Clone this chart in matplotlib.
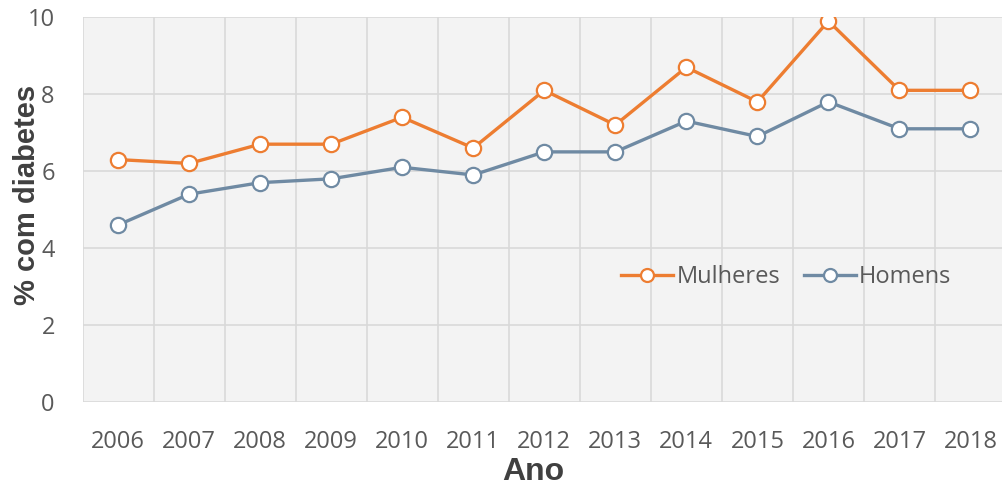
import matplotlib
matplotlib.use("Agg")
import matplotlib.pyplot as plt

anos = ["2006", "2007", "2008", "2009", "2010", "2011", "2012",
        "2013", "2014", "2015", "2016", "2017", "2018"]
mulheres = [6.3, 6.2, 6.7, 6.7, 7.4, 6.6, 8.1, 7.2, 8.7, 7.8, 9.9, 8.1, 8.1]
homens = [4.6, 5.4, 5.7, 5.8, 6.1, 5.9, 6.5, 6.5, 7.3, 6.9, 7.8, 7.1, 7.1]
yticks = [0, 2, 4, 6, 8, 10]

orange = "#ED7D31"
blue = "#6F8AA3"

fig = plt.figure(figsize=(10.03, 4.92), dpi=100)
ax = fig.add_axes([0.0823, 0.183, 0.9207, 0.782])
ax.set_facecolor("#f3f3f3")

x = list(range(len(anos)))
ax.plot(x, mulheres, color=orange, lw=2.4, marker="o", ms=11,
        mfc="white", mec=orange, mew=1.6, label="Mulheres", zorder=3)
ax.plot(x, homens, color=blue, lw=2.4, marker="o", ms=11,
        mfc="white", mec=blue, mew=1.6, label="Homens", zorder=3)

ax.set_xlim(-0.5, len(anos) - 0.5)
ax.set_ylim(0, 10)
ax.set_yticks(yticks)
ax.set_xticks(x)
ax.set_xticklabels(anos)
ax.set_xticks([i + 0.5 for i in range(-1, len(anos))], minor=True)
ax.grid(False)
ax.grid(True, which="minor", axis="x", color="#d9d9d9", lw=1.2)
ax.grid(True, which="major", axis="y", color="#d9d9d9", lw=1.2)
ax.set_axisbelow(True)
for s in ax.spines.values():
    s.set_visible(False)
ax.tick_params(axis="both", which="both", length=0)
ax.tick_params(axis="x", pad=20.5)
ax.tick_params(axis="y", pad=20)
for lab in ax.get_xticklabels() + ax.get_yticklabels():
    lab.set_fontfamily("Open Sans")
    lab.set_fontsize(17)
    lab.set_color("#595959")

ax.set_xlabel("Ano", fontfamily="Liberation Sans", fontweight="bold",
              fontsize=23, color="#404040")
ax.xaxis.label.set_va("center")
ax.xaxis.set_label_coords(0.488, -0.182)
ax.set_ylabel("% com diabetes", fontfamily="Liberation Sans", fontweight="bold",
              fontsize=21, color="#404040")
ax.yaxis.label.set_va("center")
ax.yaxis.set_label_coords(-0.060, 0.538)

leg = ax.legend(loc="center", bbox_to_anchor=(0.762, 0.325), ncol=2,
                frameon=False, handlelength=2.2, columnspacing=1.0,
                handletextpad=0.15, markerscale=0.85,
                prop={"family": "Open Sans", "size": 17})
for t in leg.get_texts():
    t.set_color("#595959")

fig.savefig("out.png", dpi=100)
